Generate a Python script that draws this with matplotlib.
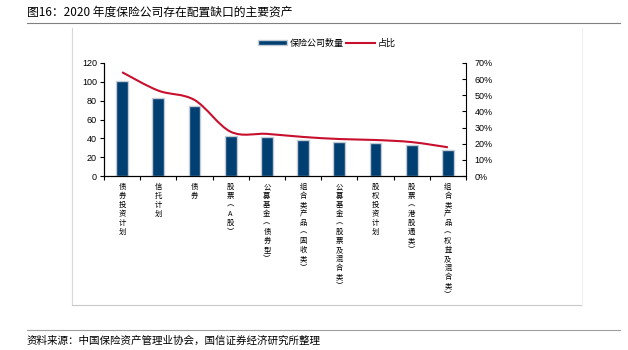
import matplotlib.pyplot as plt
from matplotlib.path import Path
from matplotlib.patches import PathPatch
from matplotlib.lines import Line2D
from matplotlib.patches import Patch

plt.rcParams['font.family'] = ['Noto Sans CJK SC', 'DejaVu Sans']

categories = ["债券投资计划", "信托计划", "债券", "股票（A股）", "公募基金（债券型）",
              "组合类产品（固收类）", "公募基金（股票及混合类）", "股权投资计划",
              "股票（港股通类）", "组合类产品（权益及混合类）"]
counts = [101, 83, 74, 43, 41, 38, 36, 35, 33, 28]
shares = [64.3, 52.9, 47.1, 27.4, 26.1, 24.2, 22.9, 22.3, 21.0, 17.8]

bar_color = "#003f72"
line_color = "#c8102e"

fig = plt.figure(figsize=(6.28, 3.5), dpi=100)

# title, rules and source
fig.text(27 / 628, 1 - 12 / 350, "图16：2020 年度保险公司存在配置缺口的主要资产",
         fontsize=8.5, va="center", ha="left")
fig.add_artist(Line2D([27 / 628, 620 / 628], [1 - 23 / 350] * 2, color="#808080", lw=0.8))
fig.add_artist(Line2D([27 / 628, 620 / 628], [1 - 330 / 350] * 2, color="#a0a0a0", lw=0.8))
fig.text(27 / 628, 1 - 341 / 350, "资料来源：中国保险资产管理业协会，国信证券经济研究所整理",
         fontsize=7.6, va="center", ha="left")

# light frame around chart area
fig.add_artist(Line2D([72 / 628, 72 / 628], [1 - 28 / 350, 1 - 305 / 350], color="#d8d8d8", lw=0.8))
fig.add_artist(Line2D([72 / 628, 582 / 628], [1 - 305 / 350] * 2, color="#c8c8c8", lw=0.8))
fig.add_artist(Line2D([582 / 628, 582 / 628], [1 - 28 / 350, 1 - 305 / 350], color="#f0f0f0", lw=0.8))

ax = fig.add_axes([104 / 628, 1 - 176 / 350, 362 / 628, 113 / 350])
x = list(range(len(categories)))
ax.bar(x, counts, width=0.33, color=bar_color, edgecolor="#c3ccd6", linewidth=1.0, zorder=2)
ax.set_xlim(-0.5, len(categories) - 0.5)
ax.set_ylim(0, 120)
ax.set_yticks(range(0, 121, 20))
ax.spines["top"].set_visible(False)
ax.spines["right"].set_visible(False)
ax.tick_params(axis="y", direction="out", length=3, width=0.8, labelsize=6.5, pad=2)
for lab in ax.get_yticklabels():
    lab.set_fontfamily(["Liberation Sans", "DejaVu Sans"])

ax.set_xticks(x)
vert = []
for c in categories:
    c = c.replace("（", "︵").replace("）", "︶")
    vert.append("\n".join(c))
ax.set_xticklabels(vert, fontsize=5.3, linespacing=1.17, va="top")
ax.tick_params(axis="x", which="major", length=0, pad=5)
ax.set_xticks([i - 0.5 for i in range(len(categories) + 1)], minor=True)
ax.tick_params(axis="x", which="minor", length=3, width=0.8, direction="out")

ax2 = ax.twinx()
ax2.set_ylim(0, 70)
ax2.set_yticks(range(0, 71, 10))
ax2.set_yticklabels([f"{v}%" for v in range(0, 71, 10)])
ax2.spines["top"].set_visible(False)
ax2.tick_params(axis="y", direction="in", length=3, width=0.8, labelsize=6.5, pad=6)
for lab in ax2.get_yticklabels():
    lab.set_fontfamily(["Liberation Sans", "DejaVu Sans"])

# smoothed line (Catmull-Rom style bezier through the points)
pts = list(zip(x, shares))
verts = [pts[0]]
codes = [Path.MOVETO]
n = len(pts)
for i in range(n - 1):
    p0 = pts[i - 1] if i > 0 else pts[i]
    p1 = pts[i]
    p2 = pts[i + 1]
    p3 = pts[i + 2] if i + 2 < n else pts[i + 1]
    c1 = (p1[0] + (p2[0] - p0[0]) / 6, p1[1] + (p2[1] - p0[1]) / 6)
    c2 = (p2[0] - (p3[0] - p1[0]) / 6, p2[1] - (p3[1] - p1[1]) / 6)
    verts += [c1, c2, p2]
    codes += [Path.CURVE4] * 3
ax2.add_patch(PathPatch(Path(verts, codes), facecolor="none", edgecolor=line_color, lw=1.5, zorder=3))

handles = [Patch(facecolor=bar_color, edgecolor="#c3ccd6", lw=1.0),
           Line2D([0], [0], color=line_color, lw=1.5)]
fig.legend(handles, ["保险公司数量", "占比"], loc="center", bbox_to_anchor=(327 / 628, 1 - 43 / 350),
           ncol=2, frameon=False, fontsize=6.5, handlelength=3.2, handleheight=0.5,
           columnspacing=0.3, handletextpad=0.3)

fig.savefig("out.png", dpi=100)
